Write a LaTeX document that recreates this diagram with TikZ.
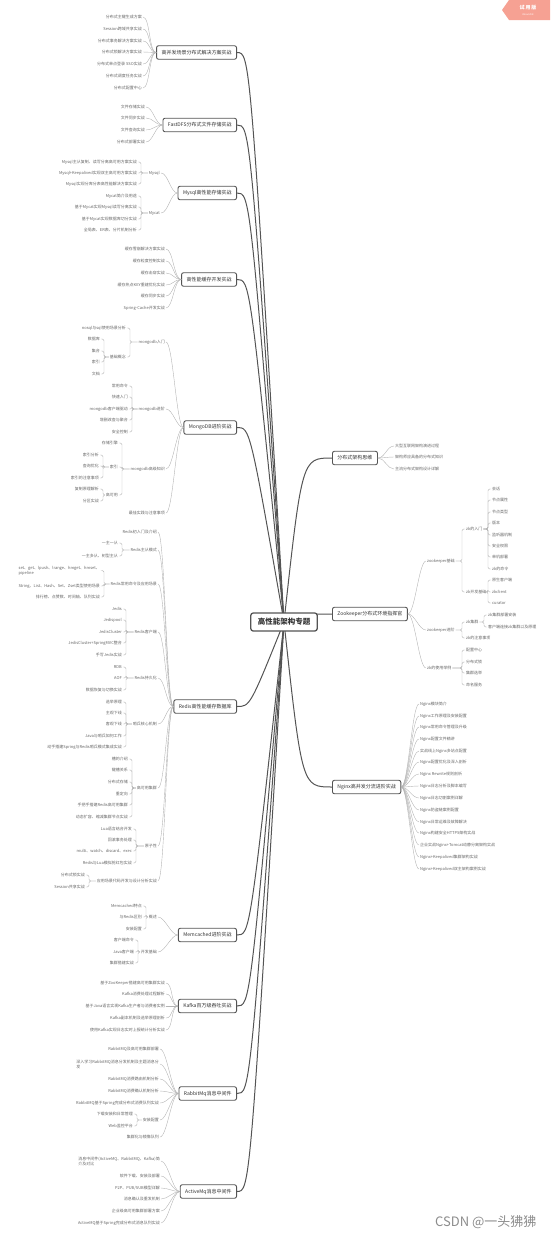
\documentclass[tikz,border=0pt]{standalone}
\usepackage{fontspec}
\setmainfont{Noto Sans CJK SC}
\usetikzlibrary{backgrounds}
\definecolor{boxline}{HTML}{545454}
\definecolor{boxtext}{HTML}{333333}
\definecolor{twiggray}{HTML}{B4B4B4}
\definecolor{leaftext}{HTML}{666666}
\definecolor{trialred}{HTML}{F6A193}
\definecolor{markgray}{HTML}{8C8C8C}

\begin{document}
\begin{tikzpicture}[
  x=1pt,
  y=-1pt,
  line join=round,
  line cap=round,
  root/.style={draw=boxline,line width=1.3pt,rounded corners=2.5pt,fill=white,text=boxtext,font=\fontsize{7.5}{9}\selectfont\bfseries,minimum height=18pt,inner xsep=7pt},
  topic/.style={draw=boxline,line width=0.9pt,rounded corners=2pt,fill=white,text=boxtext,font=\fontsize{5}{6}\selectfont,minimum height=13.5pt,inner xsep=5pt,inner ysep=0pt},
  leaf/.style={text=leaftext,font=\fontsize{4}{5}\selectfont,inner sep=1pt,align=left},
  mainline/.style={draw=boxline,line width=1pt},
  twig/.style={draw=twiggray,line width=0.4pt}
]
  \newcommand{\fanL}[3]{%
    \foreach \t/\y [count=\i] in {#3} {
      \node[leaf,anchor=east] (#1-\i) at (#2,\y) {\t};
      \draw[twig] (#1.west) .. controls +(-7,0) and +(7,0) .. (#1-\i.east);
    }
  }
  \newcommand{\fanR}[3]{%
    \foreach \t/\y [count=\i] in {#3} {
      \node[leaf,anchor=west] (#1-\i) at (#2,\y) {\t};
      \draw[twig] (#1.east) .. controls +(7,0) and +(-7,0) .. (#1-\i.west);
    }
  }
  \newcommand{\forkL}[3]{%
    \foreach \t/\y [count=\i] in {#3} {
      \node[leaf,anchor=east] (#1-\i) at (#2,\y) {\t};
      \draw[twig,rounded corners=1.5pt] (#1-\i.east) -- ++(3,0) |- (#1.west);
    }
  }
  \newcommand{\forkR}[3]{%
    \foreach \t/\y [count=\i] in {#3} {
      \node[leaf,anchor=west] (#1-\i) at (#2,\y) {\t};
      \draw[twig,rounded corners=1.5pt] (#1-\i.west) -- ++(-3,0) |- (#1.east);
    }
  }

  \useasboundingbox (0,0) rectangle (550,1240);
  \coordinate (hubL) at (250,622);
  \coordinate (hubR) at (302,622);

  \node[root] (root) at (284,622) {高性能架构专题};

  % Left side topics.
  \node[topic,anchor=east] (b1) at (237,52.5) {高并发场景分布式解决方案实战};
  \fanL{b1}{143}{分布式主键生成方案/17, Session跨域共享实战/29, 分布式事务解决方案实战/41, 分布式锁解决方案实战/52, 分布式单点登录 SSO实战/64, 分布式调度任务实战/76, 分布式配置中心/88}

  \node[topic,anchor=east] (b2) at (237,125) {FastDFS分布式文件存储实战};
  \fanL{b2}{146}{文件存储实战/107, 文件同步实战/118, 文件查询实战/130, 分布式部署实战/142}

  \node[topic,anchor=east] (b3) at (237,193) {Mysql高性能存储实战};
  \fanL{b3}{161}{Mysql/173, Mycat/213}
  \forkL{b3-1}{138}{Mysql主从复制、读写分离高可用方案实战/162, Mysql+Keepalived实现双主高可用方案实战/173, Mysql实现分库分表高性能解决方案实战/184}
  \forkL{b3-2}{138}{Mycat简介及用途/196, 基于Mycat实现Mysql读写分离实战/207, 基于Mycat实现数据库切分实战/219, 全局表、ER表、分片机制分析/230}

  \node[topic,anchor=east] (b4) at (237,279.5) {高性能缓存开发实战};
  \fanL{b4}{166}{缓存雪崩解决方案实战/249, 缓存粒度控制实战/261, 缓存击穿实战/273, 缓存热点KEY重建优化实战/285, 缓存同步实战/296, Spring-Cache开发实战/308}

  \node[topic,anchor=east] (b5) at (237,427.5) {MongoDB进阶实战};
  \fanL{b5}{166}{mongodb入门/342, mongodb进阶/409, mongodb高级知识/469, 最佳实践与注意事项/513}
  \forkL{b5-1}{127}{nosql与sql使用场景分析/328, 基础概念/357}
  \forkL{b5-1-2}{101}{数据库/339, 集合/351, 索引/362, 文档/374}
  \forkL{b5-2}{129}{常用命令/386, 快速入门/397, mongodb客户端驱动/409, 增删改查与聚合/420, 安全控制/432}
  \forkL{b5-3}{119}{存储引擎/443, 索引/467, 高可用/495}
  \forkL{b5-3-2}{100}{索引分析/455, 查询优化/466, 索引的注意事项/478}
  \forkL{b5-3-3}{100}{复制原理解析/489, 分区实战/501}

  \node[topic,anchor=east] (b6) at (237,706.5) {Redis高性能缓存数据库};
  \fanL{b6}{158}{Redis初入门及介绍/532, Redis主从模式/550, Redis常用命令及应用场景/584, Redis客户端/632, Redis持久化/678, 哨兵核心机制/724, 高可用集群/788, 原子性/846, 应用场景代码开发与设计分析实战/881}
  \forkL{b6-2}{119}{一主一从/543, 一主多从、树型主从/556}
  \forkL{b6-3}{101}{{set、get、lpush、lrange、hmget、hmset、\\pipeline}/570.5, String、List、Hash、Set、Zset类型使用场景/586, 排行榜、点赞数、时间轴、队列实战/597}
  \forkL{b6-4}{123}{Jedis/609, Jedispool/620, JedisCluster/632, JedisCluster+SpringMVC整合/643, 手写Jedis实战/655}
  \forkL{b6-5}{123}{RDB/667, AOF/678, 数据恢复与切换实战/690}
  \forkL{b6-6}{123}{选举原理/702, 主观下线/713, 客观下线/724, Java与哨兵如何工作/736, 动手搭建Spring与Redis哨兵模式集成实战/747}
  \forkL{b6-7}{129}{槽的介绍/759, 键槽关系/770, 分布式存储/782, 重定向/794, 手把手搭建Redis高可用集群/805, 动态扩容、缩减集群节点实战/817}
  \forkL{b6-8}{133}{Lua语言结合开发/829, 回滚事务处理/840, multi、watch、discard、exec/851, Redis与Lua模拟抢红包实战/863}
  \forkL{b6-9}{86}{分布式锁实战/875, Session共享实战/887}

  \node[topic,anchor=east] (b7) at (237,935) {Memcached进阶实战};
  \fanL{b7}{158}{概述/917, 开发基础/952}
  \forkL{b7-1}{143}{Memcached特点/906, 与Redis区别/917, 安装配置/929}
  \forkL{b7-2}{135}{客户端命令/940, Java客户端/952, 集群搭建实战/963}

  \node[topic,anchor=east] (b8) at (237,1006) {Kafka百万级吞吐实战};
  \fanL{b8}{166}{基于ZooKeeper搭建高可用集群实战/983, Kafka消费处理过程解析/994, 基于Java语言实现Kafka生产者与消费者实例/1006, Kafka副本机制及选举原理剖析/1018, 使用Kafka实现日志实时上报统计分析实战/1030}

  \node[topic,anchor=east] (b9) at (237,1093.5) {RabbitMq消息中间件};
  \fanL{b9}{160}{RabbitMQ及高可用集群部署/1049, {深入学习RabbitMQ消息分发机制及主题消息分\\发}/1064, RabbitMQ消费路由机制分析/1079, RabbitMQ消费确认机制分析/1091, RabbitMQ基于Spring完成分布式消费队列实战/1103, 安装配置/1120, 集群化与镜像队列/1137}
  \forkL{b9-6}{134}{下载安装和日常管理/1114, Web监控平台/1126}

  \node[topic,anchor=east] (b10) at (237,1191.5) {ActiveMq消息中间件};
  \fanL{b10}{161}{{消息中间件(ActiveMQ、RabbitMQ、Kafka)简\\介及对比}/1161, 软件下载、安装及部署/1176, {P2P、PUB/SUB模型详解}/1188, 消息确认及重发机制/1199, 企业级高可用集群部署方案/1211, ActiveMQ基于Spring完成分布式消息队列实战/1223}

  % Right side topics.
  \node[topic,anchor=west] (r1) at (332,458) {分布式架构思维};
  \fanR{r1}{394}{大型互联网架构演进过程/446, 架构师应具备的分布式知识/457, 主流分布式架构设计详解/469}

  \node[topic,anchor=west] (r2) at (332,614) {Zookeeper分布式环境指挥官};
  \fanR{r2}{426}{zookeeper基础/561, zookeeper进阶/630, zk的使用举例/668}
  \forkR{r2-1}{465}{zk的入门/529, zk开发基础/592}
  \forkR{r2-1-1}{491}{会话/489, 节点属性/500, 节点类型/512, 版本/523, 监听器机制/535, 安全权限/546, 单机部署/557, zk的命令/569}
  \forkR{r2-1-2}{491}{原生客户端/580, zkclient/592, curator/603}
  \forkR{r2-2}{465}{zk集群/622, zk的注意事项/638}
  \forkR{r2-2-1}{487}{zk集群部署安装/615, 客户端连接zk集群以及原理/627}
  \forkR{r2-3}{465}{配置中心/650, 分布式锁/662, 集群选举/673, 命名服务/685}

  \node[topic,anchor=west] (r3) at (332,787) {Nginx高并发分流进阶实战};
  \fanR{r3}{419}{Nginx模块简介/704, Nginx工作原理及安装配置/716, Nginx常用命令管理及升级/727, Nginx配置文件精讲/739, 实战线上Nginx多站点配置/751, Nginx配置优化及深入剖析/762, Nginx Rewrite规则剖析/774, Nginx日志分析及脚本编写/786, Nginx日志切割案例详解/798, Nginx防盗链案例配置/810, Nginx日常运维及故障解决/822, Nginx构建安全HTTPS架构实战/833, 企业实战Nginx+Tomcat动静分离架构实战/845, Nginx+Keepalived集群架构实战/857, Nginx+Keepalived双主架构案例实战/869}

  % Main branches, under the boxes.
  \begin{pgfonlayer}{background}
    \foreach \b in {b1,b2,b3,b4,b5,b6,b7,b8,b9,b10} {
      \draw[mainline] (root.center) .. controls (hubL |- \b.east) .. (\b.east);
    }
    \foreach \b in {r1,r2,r3} {
      \draw[mainline] (root.center) .. controls (hubR |- \b.west) .. (\b.west);
    }
  \end{pgfonlayer}

  % Trial badge and watermark.
  \fill[trialred] (502,10) -- (509,0) -- (550,0) -- (550,20) -- (509,20) -- cycle;
  \node[text=white,font=\fontsize{5}{6}\selectfont\bfseries] (trial) at (528,7.5) {试\,用\,版};
  \node[text=white,font=\fontsize{2.2}{3}\selectfont] (trialsub) at (528,14.5) {XMind ZEN};
  \node[anchor=east,text=markgray,font=\fontsize{13}{15}\selectfont] (mark) at (540,1222) {CSDN @一头狒狒};
\end{tikzpicture}
\end{document}
